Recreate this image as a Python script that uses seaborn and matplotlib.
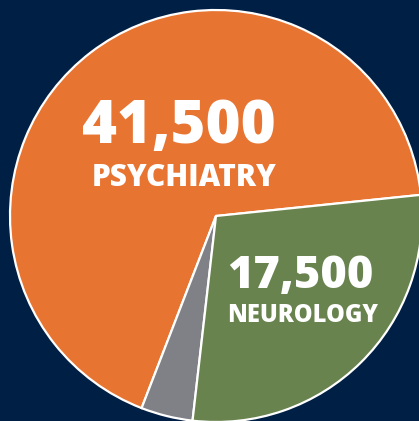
import matplotlib
matplotlib.use("Agg")
import matplotlib.pyplot as plt
import seaborn as sns

# pie data
labels = ["Psychiatry", "Other", "Neurology"]
values = [41500, 2500, 17500]
value_text = ["41,500", "", "17,500"]
colors = ["#E87431", "#808186", "#68834E"]
bg = "#001F45"

sns.set_style("white")
plt.rcParams["font.family"] = ["Open Sans", "DejaVu Sans"]

fig = plt.figure(figsize=(4.19, 4.21), dpi=100, facecolor=bg)
ax = fig.add_axes([0, 0, 1, 1])
ax.set_facecolor(bg)

ax.pie(values, colors=colors, startangle=5.9, counterclock=True,
       wedgeprops=dict(edgecolor="white", linewidth=1.6))

# map so the centre lands at (216, 216) px with a 206 px radius
r = 206
ax.set_xlim(-216 / r, (419 - 216) / r)
ax.set_ylim((216 - 421) / r, 216 / r)
ax.set_aspect("auto")
ax.axis("off")

def px(x, y):
    return (x - 216) / r, (216 - y) / r

def put(txt, cx, base, size):
    x, y = px(cx, base)
    ax.text(x, y, txt, color="white", fontsize=size, fontweight=800,
            ha="center", va="baseline")

put(value_text[0], 179, 143, 43)
put(labels[0].upper(), 184, 186, 21.5)
put(value_text[2], 300, 288, 32.5)
put(labels[2].upper(), 303, 322, 17)

fig.savefig("out.png", dpi=100, facecolor=bg)
